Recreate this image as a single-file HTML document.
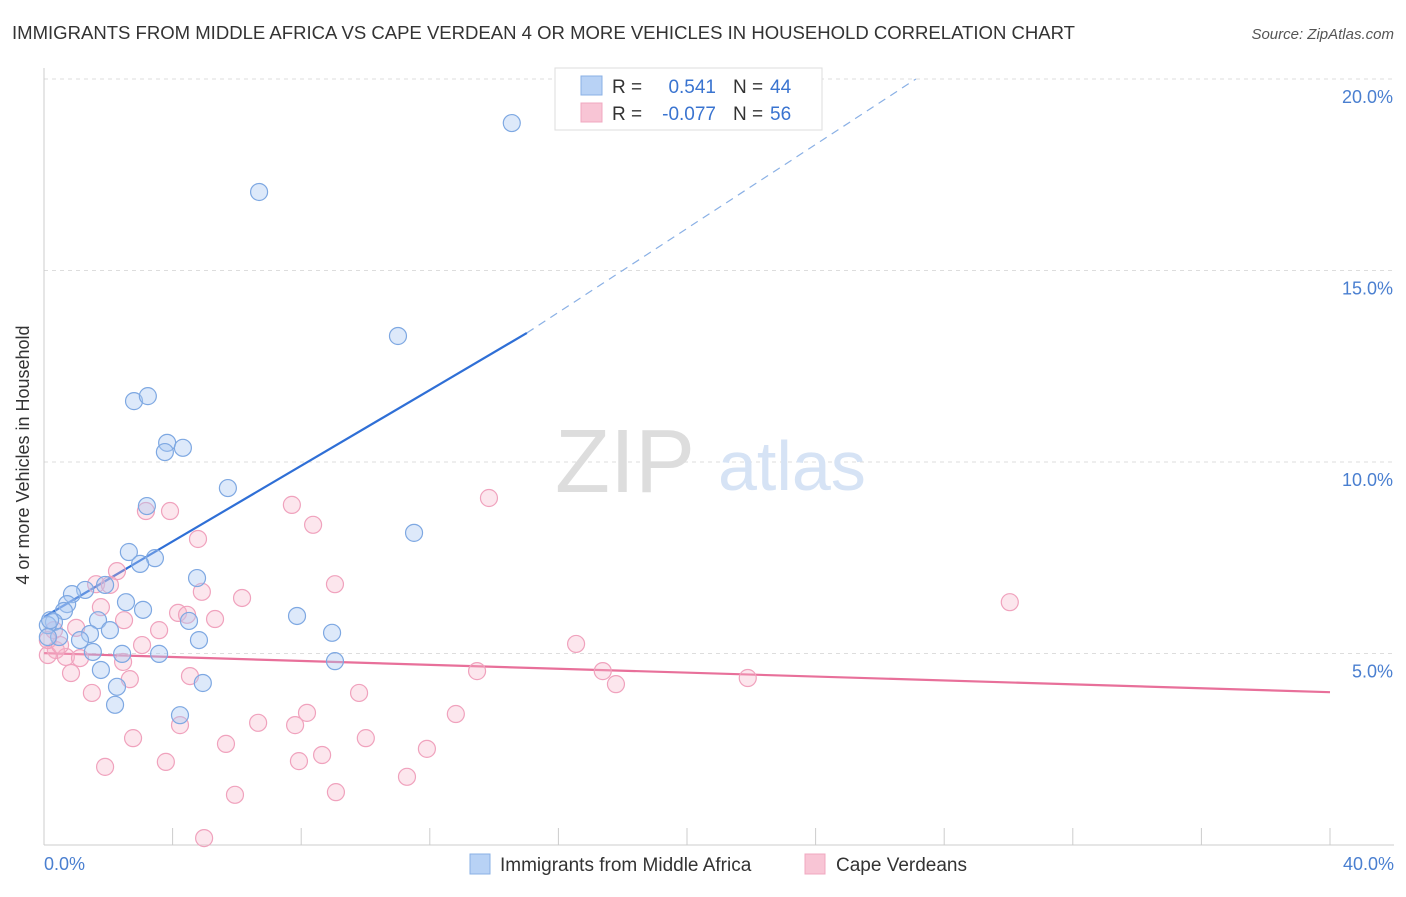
<!DOCTYPE html>
<html><head><meta charset="utf-8">
<style>
body{margin:0;background:#fff;font-family:"Liberation Sans",sans-serif;}
svg text{font-family:"Liberation Sans",sans-serif;}
</style></head>
<body>
<svg id="chart" width="1406" height="892" xmlns="http://www.w3.org/2000/svg">
<text x="12" y="39" font-size="18.55" fill="#333">IMMIGRANTS FROM MIDDLE AFRICA VS CAPE VERDEAN 4 OR MORE VEHICLES IN HOUSEHOLD CORRELATION CHART</text>
<text x="1394" y="39" font-size="15" fill="#555" font-style="italic" text-anchor="end">Source: ZipAtlas.com</text>
<text x="29" y="455" font-size="18" fill="#333" text-anchor="middle" transform="rotate(-90 29 455)">4 or more Vehicles in Household</text>
<g id="grid"></g>
<g id="axes">
<line x1="44" y1="68" x2="44" y2="845" stroke="#ccc" stroke-width="1"/>
<line x1="44" y1="845" x2="1394" y2="845" stroke="#ccc" stroke-width="1"/>
</g>
<text x="555" y="492" font-size="90" fill="#ddd" font-family="Liberation Serif,serif">ZIP</text>
<text x="718" y="490" font-size="70" fill="#d6e3f5">atlas</text>
<g id="ticks"></g>
<g id="lines"></g>
<g id="pts"></g>
<g>
<rect x="555" y="68" width="267" height="62" fill="#fff" stroke="#ddd"/>
<rect x="581" y="76" width="21" height="19" fill="#b8d2f5" stroke="#8ab0e5"/>
<rect x="581" y="103" width="21" height="19" fill="#f8c5d5" stroke="#f0a8c0"/>
<text x="612" y="93" font-size="19" fill="#333">R = </text><text x="716" y="93" font-size="19" fill="#3a74d0" text-anchor="end">0.541</text>
<text x="733" y="93" font-size="19" fill="#333">N = </text><text x="770" y="93" font-size="19" fill="#3a74d0">44</text>
<text x="612" y="120" font-size="19" fill="#333">R = </text><text x="716" y="120" font-size="19" fill="#3a74d0" text-anchor="end">-0.077</text>
<text x="733" y="120" font-size="19" fill="#333">N = </text><text x="770" y="120" font-size="19" fill="#3a74d0">56</text>
</g>
<g>
<rect x="470" y="854" width="20" height="20" fill="#b8d2f5" stroke="#8ab0e5"/>
<text x="500" y="871" font-size="19" fill="#333">Immigrants from Middle Africa</text>
<rect x="805" y="854" width="20" height="20" fill="#f8c5d5" stroke="#f0a8c0"/>
<text x="836" y="871" font-size="19" fill="#333">Cape Verdeans</text>
</g>
<text x="44" y="870" font-size="18" fill="#4a7fd0">0.0%</text>
<text x="1394" y="870" font-size="18" fill="#4a7fd0" text-anchor="end">40.0%</text>
</svg>
<script>
const blueX=[14.55,6.69,11.01,2.80,3.23,3.83,3.76,4.32,5.72,3.20,11.51,2.64,3.45,2.99,4.76,1.28,0.87,0.72,0.62,2.55,3.08,7.87,1.68,4.51,0.31,0.12,2.05,8.96,1.43,1.12,0.47,0.12,4.82,1.52,2.43,3.58,9.05,1.77,2.27,4.94,2.21,4.23,1.90,0.19];
const blueY=[18.85,17.05,13.29,11.59,11.72,10.50,10.26,10.37,9.32,8.85,8.15,7.65,7.49,7.34,6.97,6.66,6.55,6.29,6.11,6.34,6.14,5.98,5.87,5.85,5.82,5.74,5.61,5.54,5.51,5.35,5.43,5.43,5.35,5.04,4.99,4.99,4.80,4.57,4.13,4.23,3.66,3.39,6.79,5.87];
const pinkX=[13.84,7.71,3.92,3.17,8.37,4.79,9.05,2.27,1.62,2.05,6.16,4.91,1.77,4.17,4.45,5.32,2.49,3.58,1.00,0.31,30.04,3.05,0.37,0.12,0.68,1.12,2.46,16.55,17.38,13.47,17.79,21.89,4.54,2.67,0.84,1.49,9.80,8.18,12.81,6.66,4.23,2.77,10.01,5.66,11.91,8.65,7.93,3.79,1.90,11.29,9.08,5.94,4.98,0.12,0.50,7.81];
const pinkY=[9.06,8.88,8.72,8.72,8.36,7.99,6.81,7.15,6.81,6.79,6.45,6.61,6.21,6.06,6.01,5.90,5.87,5.61,5.67,5.61,6.34,5.22,5.09,4.96,4.91,4.88,4.78,5.25,4.54,4.54,4.20,4.36,4.41,4.33,4.49,3.97,3.97,3.45,3.42,3.19,3.13,2.79,2.79,2.64,2.51,2.35,2.19,2.17,2.04,1.78,1.38,1.31,0.18,5.35,5.22,3.13];
const yTicks=[5,10,15,20];
const yTickLabels=["5.0%","10.0%","15.0%","20.0%"];
const xTicks=[4,8,12,16,20,24,28,32,36,40];
const blueTrend=[5.95,0.494,15.02]; // intercept, slope, solid end
const blueDashEnd=[27.12,20];
const pinkTrend=[5.01,-0.0255];
const NS="http://www.w3.org/2000/svg";
const xs=v=>44+v/40*1286, ys=v=>845-v/5*191.5;
function mk(t,a,p){const e=document.createElementNS(NS,t);for(const k in a)e.setAttribute(k,a[k]);p.appendChild(e);return e;}
const grid=document.getElementById('grid');
yTicks.forEach((t,i)=>{
 const l=mk('line',{x1:44,x2:1394,y1:ys(t),y2:ys(t),stroke:'#ddd','stroke-dasharray':'4 4'},grid);
 
 
 const tx=mk('text',{x:1393,y:ys(t)+24,'font-size':18,fill:'#4a7fd0','text-anchor':'end'},grid);
 tx.textContent=yTickLabels[i];
 
 
});
const tk=document.getElementById('ticks');
xTicks.forEach(t=>{
 const l=mk('line',{x1:xs(t),x2:xs(t),y1:828,y2:845,stroke:'#ccc'},tk);
 
 
});
const ln=document.getElementById('lines');
const b0=blueTrend[0],b1=blueTrend[1],be=blueTrend[2];
let l1=mk('line',{x1:xs(0),y1:ys(b0),x2:xs(be),y2:ys(b0+b1*be),stroke:'#2f6fd6','stroke-width':2.2},ln);


let l2=mk('line',{x1:xs(be),y1:ys(b0+b1*be),x2:xs(blueDashEnd[0]),y2:ys(blueDashEnd[1]),stroke:'#8ab0e5','stroke-width':1.2,'stroke-dasharray':'8 6'},ln);


let l3=mk('line',{x1:xs(0),y1:ys(pinkTrend[0]),x2:xs(40),y2:ys(pinkTrend[0]+pinkTrend[1]*40),stroke:'#e8709a','stroke-width':2.2},ln);


const pts=document.getElementById('pts');
pinkX.forEach((x,i)=>{
 const c=mk('circle',{cx:xs(x),cy:ys(pinkY[i]),r:8.5,fill:'rgba(246,182,204,0.35)',stroke:'#f0a2bd','stroke-width':1.2},pts);
 
 
});
blueX.forEach((x,i)=>{
 const c=mk('circle',{cx:xs(x),cy:ys(blueY[i]),r:8.5,fill:'rgba(170,200,242,0.4)',stroke:'#7ea8e2','stroke-width':1.2},pts);
 
 
});
</script>
</body></html>
